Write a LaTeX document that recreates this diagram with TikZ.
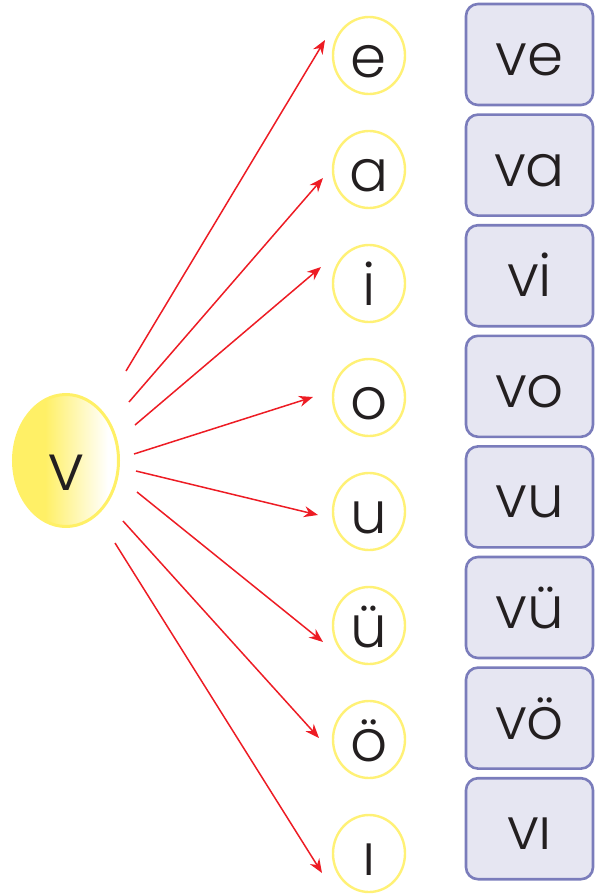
\documentclass[tikz,border=0pt]{standalone}
\usepackage{fontspec}
\setmainfont{Poppins}[UprightFont=* Light]
\usetikzlibrary{shapes.geometric,arrows.meta}
\definecolor{vyellow}{HTML}{FFF176}
\definecolor{sunyellow}{HTML}{FFF066}
\definecolor{boxfill}{HTML}{E6E6F2}
\definecolor{boxline}{HTML}{7A7CBB}
\definecolor{vred}{HTML}{ED1C24}
\definecolor{ink}{HTML}{231F20}
\pgfdeclarehorizontalshading{sunshade}{100bp}{color(0bp)=(sunyellow); color(40bp)=(sunyellow); color(70bp)=(white); color(100bp)=(white)}
\tikzset{
  letter/.style={ellipse, draw=vyellow, line width=2.4pt, minimum width=72pt, minimum height=77pt, inner sep=0pt, text height=44pt, text depth=0pt, text=ink, font=\fontsize{58}{60}\selectfont},
  syll/.style={draw=boxline, fill=boxfill, line width=2.6pt, rounded corners=12pt, minimum width=127pt, minimum height=101pt, inner sep=0pt, text height=42pt, text depth=0pt, text=ink, font=\fontsize{58}{60}\selectfont},
  arr/.style={draw=vred, line width=1.5pt, -{Stealth[length=14pt,width=11pt]}}
}
\begin{document}
\begin{tikzpicture}[x=1pt, y=-1pt]
\useasboundingbox (0,0) rectangle (601,896);
% the consonant
\node[ellipse, draw=sunyellow, line width=3pt, shading=sunshade, shading angle=0, minimum width=105pt, minimum height=132pt, inner sep=0pt, text height=59pt, text depth=0pt, text=ink, font=\fontsize{65}{67}\selectfont] (v) at (66,460.5) {v};
% vowels
\node[letter] (e) at (369,55.5) {e};
\node[letter] (a) at (369,169.5) {a};
\node[letter] (i) at (369,283.5) {i};
\node[letter] (o) at (369,397.5) {o};
\node[letter] (u) at (369,511.5) {u};
\node[letter] (ue) at (369,625.5) {ü};
\node[letter] (oe) at (369,739.5) {ö};
\node[letter] (ii) at (369,853.5) {ı};
% syllables
\node[syll] (ve) at (529.5,54.5) {ve};
\node[syll] (va) at (529.5,165.1) {va};
\node[syll] (vi) at (529.5,275.7) {vi};
\node[syll] (vo) at (529.5,386.3) {vo};
\node[syll] (vu) at (529.5,496.9) {vu};
\node[syll] (vue) at (529.5,607.5) {vü};
\node[syll] (voe) at (529.5,718.1) {vö};
\node[syll] (vii) at (529.5,828.7) {vı};
% arrows
\coordinate (s1) at (126,371);  \coordinate (t1) at (325,40);
\coordinate (s2) at (129,402);  \coordinate (t2) at (323,178);
\coordinate (s3) at (135,425);  \coordinate (t3) at (321,267);
\coordinate (s4) at (134,454);  \coordinate (t4) at (313,397);
\coordinate (s5) at (136,471);  \coordinate (t5) at (318,515);
\coordinate (s6) at (137,492);  \coordinate (t6) at (323,642);
\coordinate (s7) at (123,521);  \coordinate (t7) at (319,738);
\coordinate (s8) at (115,543);  \coordinate (t8) at (322,873);
\draw[arr] (s1) -- (t1);
\draw[arr] (s2) -- (t2);
\draw[arr] (s3) -- (t3);
\draw[arr] (s4) -- (t4);
\draw[arr] (s5) -- (t5);
\draw[arr] (s6) -- (t6);
\draw[arr] (s7) -- (t7);
\draw[arr] (s8) -- (t8);
\end{tikzpicture}
\end{document}
